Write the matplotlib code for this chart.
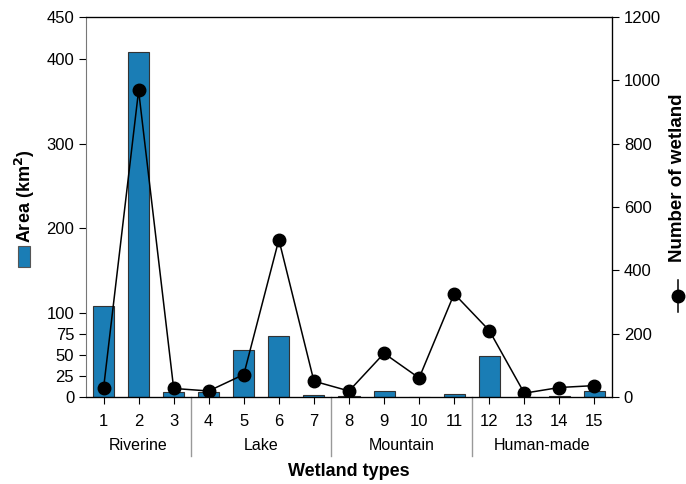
import matplotlib
matplotlib.use('Agg')
import matplotlib.pyplot as plt
from matplotlib.patches import Rectangle
from matplotlib.lines import Line2D

plt.rcParams['font.family'] = ['Liberation Sans', 'DejaVu Sans']

sites = list(range(1, 16))
area = [108, 409, 5.5, 6, 56, 72, 2, 1.5, 7, 0.5, 4, 49, 0.3, 1.5, 7]
count = [27, 968, 27, 19, 71, 497, 50, 19, 138, 60, 326, 210, 12, 30, 36]
groups = ["Riverine", "Lake", "Mountain", "Human-made"]
group_spans = [(1, 3), (4, 7), (8, 11), (12, 15)]
left_ticks = [0, 25, 50, 75, 100, 200, 300, 400, 450]
right_ticks = [0, 200, 400, 600, 800, 1000, 1200]

fs = 12
bar_color = '#1a7db5'

fig = plt.figure(figsize=(6.86, 4.84), dpi=100)
ax = fig.add_axes([86/686, 1 - 397/484, (612-86)/686, (397-17)/484])

ax.bar(sites, area, 0.6, color=bar_color, edgecolor='#333333', linewidth=0.8, zorder=2)
ax.set_xlim(0.5, 15.5)
ax.set_ylim(0, 450)
ax.set_yticks(left_ticks)
ax.set_xticks(sites)
ax.tick_params(labelsize=fs, direction='out', length=5, width=0.8)
ax.tick_params(axis='x', pad=7)
ax.spines['left'].set_color('#777777')
for s in ['top', 'bottom', 'right']:
    ax.spines[s].set_linewidth(0.9)

ax2 = ax.twinx()
ax2.plot(sites, count, color='black', marker='o', markersize=9, linewidth=1.1, zorder=3)
ax2.set_ylim(0, 1200)
ax2.set_yticks(right_ticks)
ax2.tick_params(labelsize=fs, direction='out', length=5, width=0.8)
ax2.spines['left'].set_visible(False)

# group separators and names below the tick labels
trans = ax.get_xaxis_transform()
for k, (a, b) in enumerate(group_spans):
    ax.text((a + b) / 2, -0.127, groups[k], transform=trans, ha='center', va='center', fontsize=11.5)
    if k > 0:
        ax.add_line(Line2D([a - 0.5, a - 0.5], [0, -0.155], transform=trans,
                           color='#999999', linewidth=1.0, clip_on=False))

fig.text((86+612)/2/686, 1 - 472/484, "Wetland types", ha='center', va='center',
         fontsize=13, fontweight='bold')

# left axis title with bar symbol
fig.text(25/686, 1 - 196/484, r"Area (km$^\mathbf{2}$)", rotation=90, ha='center', va='center',
         fontsize=13, fontweight='bold')
fig.add_artist(Rectangle((18/686, 1 - 267/484), 12/686, 21/484, transform=fig.transFigure,
                         facecolor=bar_color, edgecolor='#555555', linewidth=0.8))

# right axis title with line-and-marker symbol
fig.text(678/686, 1 - 178/484, "Number of wetland", rotation=90, ha='center', va='center',
         fontsize=13.5, fontweight='bold')
fig.add_artist(Line2D([678/686, 678/686], [1 - 280/484, 1 - 312/484], transform=fig.transFigure,
                      color='black', linewidth=1.1))
fig.add_artist(Line2D([678/686], [1 - 296/484], transform=fig.transFigure, marker='o',
                      markersize=9, color='black'))

fig.savefig('out.png', dpi=100)
